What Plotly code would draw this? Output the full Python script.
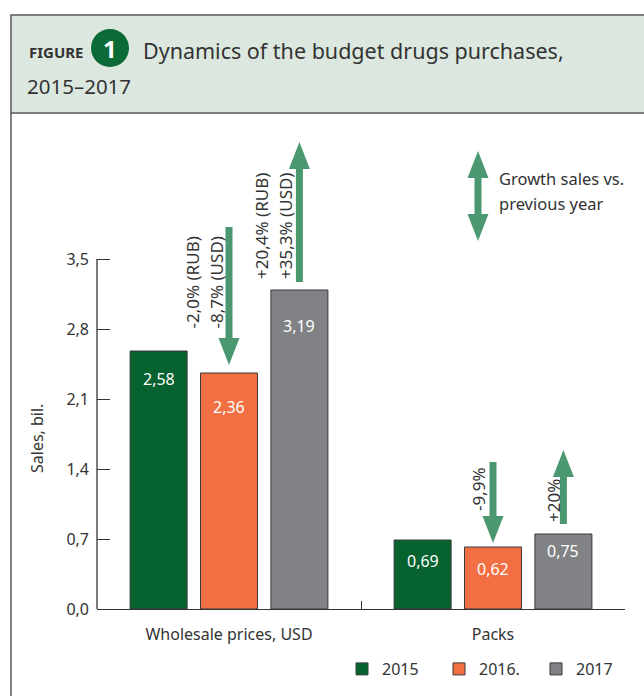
import plotly.graph_objects as go

# ---- data ----
categories = ["Wholesale prices, USD", "Packs"]
years = ["2015", "2016.", "2017"]
sales_2015 = [2.58, 0.69]
sales_2016 = [2.36, 0.62]
sales_2017 = [3.19, 0.75]

# growth arrows: category index, series index, tail value, tip value, label lines
arrow_cat = [0, 0, 1, 1]
arrow_series = [1, 2, 1, 2]
arrow_tail = [3.82, 3.27, 1.47, 0.85]
arrow_tip = [2.44, 4.67, 0.66, 1.59]
arrow_lines = [["-2,0% (RUB)", "-8,7% (USD)"],
               ["+20,4% (RUB)", "+35,3% (USD)"],
               ["-9,9%"],
               ["+20%"]]

y_ticks = [0.0, 0.7, 1.4, 2.1, 2.8, 3.5]

# ---- styling / geometry ----
W, H = 644, 696
ML, MR, MT, MB = 97, 19, 129, 87
PLOT_W = W - ML - MR
PLOT_H = H - MT - MB
Y_MAX = 4.8
PX_PER_UNIT = PLOT_H / Y_MAX
BARGAP, BARGROUPGAP = 0.2, 0.19
SLOT = (1 - BARGAP) / 3
OFFSETS = [(i - 1) * SLOT for i in range(3)]

FONT = "Noto Sans"
TXT = "#333333"
COLORS = ["#06622f", "#f26f43", "#808285"]
ARROW = "#4b9870"
HEADER_BG = "#dce8df"
FRAME = "#5a5a5a"

value_shift = [[-28, -34, -36], [-21, -22, -17]]   # label offset below bar top (px)
label_xshift = [-13, -14, -15, -10]                # last label line vs arrow centre (px)
LINE_STEP = 24


def px(xp):
    return (xp - ML) / PLOT_W


def py(yp):
    return (H - MB - yp) / PLOT_H


series = [sales_2015, sales_2016, sales_2017]

fig = go.Figure()
for name, vals, col in zip(years, series, COLORS):
    fig.add_trace(go.Bar(
        x=categories, y=vals, name=name,
        marker=dict(color=col, line=dict(color="#3a3a3a", width=1)),
        hoverinfo="skip",
    ))

shapes = []
annotations = []

# header band and frame
shapes.append(dict(type="rect", xref="paper", yref="paper",
                   x0=px(11), x1=px(720), y0=py(113), y1=py(15),
                   fillcolor=HEADER_BG, line=dict(color=FRAME, width=1.5), layer="below"))
shapes.append(dict(type="line", xref="paper", yref="paper",
                   x0=px(11), x1=px(11), y0=py(113), y1=py(720),
                   line=dict(color=FRAME, width=1.5)))
shapes.append(dict(type="circle", xref="paper", yref="paper",
                   x0=px(91), x1=px(129), y0=py(67), y1=py(29),
                   fillcolor="#0b6a35", line=dict(width=0)))

annotations += [
    dict(xref="paper", yref="paper", x=px(27), y=py(52), xanchor="left", yanchor="middle",
         text="<b>FIGURE</b>", showarrow=False,
         font=dict(family=FONT, size=15, color=TXT)),
    dict(xref="paper", yref="paper", x=px(110), y=py(48), xanchor="center", yanchor="middle",
         text="<b>1</b>", showarrow=False,
         font=dict(family=FONT, size=24, color="white")),
    dict(xref="paper", yref="paper", x=px(141), y=py(50), xanchor="left", yanchor="middle",
         text="Dynamics of the budget drugs purchases,", showarrow=False,
         font=dict(family=FONT, size=21.5, color=TXT)),
    dict(xref="paper", yref="paper", x=px(25), y=py(86), xanchor="left", yanchor="middle",
         text="2015–2017", showarrow=False,
         font=dict(family=FONT, size=20.5, color=TXT)),
]

# y axis line (only up to the last tick)
shapes.append(dict(type="line", xref="paper", yref="y", x0=0, x1=0,
                   y0=0, y1=y_ticks[-1], line=dict(color="#333333", width=1.3)))

# value labels inside bars
for s, vals in enumerate(series):
    for c, v in enumerate(vals):
        annotations.append(dict(
            xref="x", yref="y", x=c + OFFSETS[s], y=v, yshift=value_shift[c][s],
            text=f"{v:.2f}".replace(".", ","), showarrow=False,
            xanchor="center", yanchor="middle",
            font=dict(family=FONT, size=16, color="white")))

# growth arrows
HW, HHW, HL = 3.5, 10.5, 27


def arrow_path(length, d):
    return (f"M {-HW},{d*length} L {HW},{d*length} L {HW},{d*HL} L {HHW},{d*HL} "
            f"L 0,0 L {-HHW},{d*HL} L {-HW},{d*HL} Z")


for i in range(len(arrow_cat)):
    xa = arrow_cat[i] + OFFSETS[arrow_series[i]]
    tail, tip = arrow_tail[i], arrow_tip[i]
    d = 1 if tail > tip else -1
    length = abs(tail - tip) * PX_PER_UNIT
    shapes.append(dict(type="path", xref="x", yref="y",
                       xsizemode="pixel", ysizemode="pixel",
                       xanchor=xa, yanchor=tip,
                       path=arrow_path(length, d),
                       fillcolor=ARROW, line=dict(width=0)))
    head_base = tip + d * HL / PX_PER_UNIT
    ymid = (tail + head_base) / 2
    lines = arrow_lines[i]
    n = len(lines)
    for k, line in enumerate(lines):
        annotations.append(dict(
            xref="x", yref="y", x=xa, y=ymid,
            xshift=label_xshift[i] - (n - 1 - k) * LINE_STEP,
            text=line, textangle=-90, showarrow=False,
            xanchor="center", yanchor="middle",
            font=dict(family=FONT, size=17, color=TXT)))

# arrow key
key_len = 90
shapes.append(dict(type="path", xref="paper", yref="paper",
                   xsizemode="pixel", ysizemode="pixel",
                   xanchor=px(478), yanchor=py(241),
                   path=(f"M 0,0 L {HHW},{HL} L {HW},{HL} L {HW},{key_len-HL} "
                         f"L {HHW},{key_len-HL} L 0,{key_len} L {-HHW},{key_len-HL} "
                         f"L {-HW},{key_len-HL} L {-HW},{HL} L {-HHW},{HL} Z"),
                   fillcolor=ARROW, line=dict(width=0)))
for txt, yy in [("Growth sales vs.", 178), ("previous year", 203)]:
    annotations.append(dict(xref="paper", yref="paper", x=px(497), y=py(yy),
                            xanchor="left", yanchor="middle", text=txt, showarrow=False,
                            font=dict(family=FONT, size=16.5, color=TXT)))

# y axis title
annotations.append(dict(xref="paper", yref="paper", x=px(37), y=py(439),
                        text="Sales, bil.", textangle=-90, showarrow=False,
                        xanchor="center", yanchor="middle",
                        font=dict(family=FONT, size=16, color=TXT)))

fig.update_layout(
    width=W, height=H,
    margin=dict(l=ML, r=MR, t=MT, b=MB, autoexpand=False),
    paper_bgcolor="white", plot_bgcolor="white",
    barmode="group", bargap=BARGAP, bargroupgap=BARGROUPGAP,
    separators=", ",
    font=dict(family=FONT, size=16, color=TXT),
    showlegend=True,
    legend=dict(orientation="h", xref="paper", yref="paper",
                x=px(342), y=py(669), xanchor="left", yanchor="middle",
                entrywidth=52, entrywidthmode="pixels",
                font=dict(family=FONT, size=16, color=TXT),
                bgcolor="rgba(0,0,0,0)", itemclick=False, itemdoubleclick=False),
    shapes=shapes, annotations=annotations,
    hovermode=False,
)
fig.update_xaxes(showline=True, linecolor="#333333", linewidth=1.3,
                 ticks="inside", tickson="boundaries", ticklen=8, tickcolor="#333333",
                 showgrid=False, zeroline=False, ticklabelstandoff=11,
                 tickfont=dict(family=FONT, size=16, color=TXT), fixedrange=True)
fig.update_yaxes(range=[0, Y_MAX], tickvals=y_ticks, tickformat=".1f",
                 showline=False, ticks="inside", ticklen=13, tickcolor="#333333",
                 tickwidth=1.3, showgrid=False, zeroline=False, ticklabelstandoff=7,
                 tickfont=dict(family=FONT, size=16, color=TXT), fixedrange=True)

fig.write_html("out.html")
